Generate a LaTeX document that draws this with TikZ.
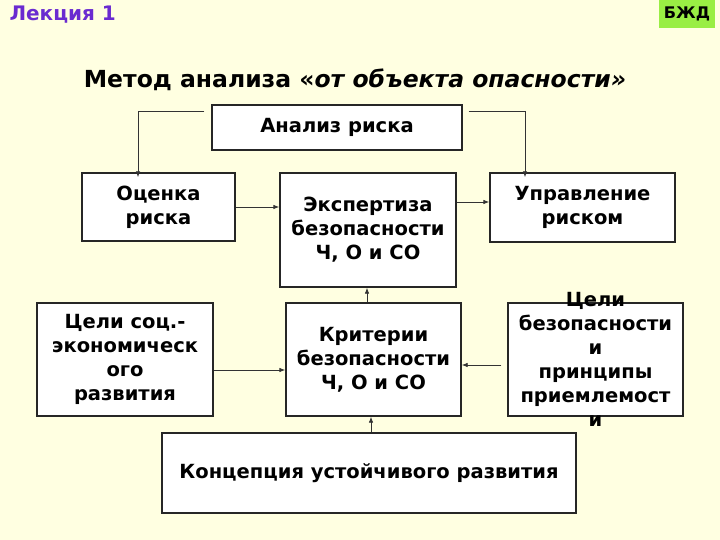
\documentclass[tikz,border=0pt]{standalone}
\usepackage{fontspec}
\setmainfont{DejaVu Sans}
\usetikzlibrary{arrows.meta,positioning}
\definecolor{slidebg}{HTML}{FFFFE1}
\definecolor{lecture}{HTML}{6A2BD0}
\definecolor{tagbg}{HTML}{99EE44}

\begin{document}
\begin{tikzpicture}[x=1pt,y=-1pt,>={Latex[length=6pt,width=4.5pt]},
        box/.style={rectangle, draw=black!85, fill=white, line width=1.3pt, align=center, inner sep=0pt, font=\fontsize{19.5}{24}\selectfont\bfseries},
        link/.style={->, draw=black!80, line width=0.8pt}
    ]
        \fill[slidebg] (0,0) rectangle (720,540);
        \useasboundingbox (0,0) rectangle (720,540);

        % header
        \node (lecture) [anchor=west, text=lecture, font=\fontsize{20}{22}\selectfont\bfseries] at (6,15) {Лекция 1};
        \node (tag) [rectangle, fill=tagbg, minimum width=56pt, minimum height=28pt, inner sep=0pt, font=\fontsize{16}{18}\selectfont\bfseries] at (687,14) {БЖД};
        \node (title) [font=\fontsize{23.5}{27}\selectfont\bfseries] at (355,80) {Метод анализа «\textit{от объекта опасности»}};

        % boxes
        \node (analiz) [box, minimum width=250pt, minimum height=45pt] at (337,127.5) {Анализ риска};
        \node (ocenka) [box, minimum width=153pt, minimum height=68pt] at (158.5,207) {Оценка\\риска};
        \node (ekspert) [box, minimum width=176pt, minimum height=114pt] at (368,230) {Экспертиза\\безопасности\\Ч, О и СО};
        \node (upravl) [box, minimum width=185pt, minimum height=69pt] at (582.5,207.5) {Управление\\риском};
        \node (celisoc) [box, minimum width=176pt, minimum height=113pt] at (125,359.5) {Цели соц.-\\экономическ\\ого\\развития};
        \node (kriter) [box, minimum width=175pt, minimum height=113pt] at (373.5,359.5) {Критерии\\безопасности\\Ч, О и СО};
        \node (celibez) [box, minimum width=175pt, minimum height=113pt, inner ysep=-20pt] at (595.5,359.5) {Цели\\безопасности\\и\\ принципы\\приемлемост\\и};
        \node (konc) [box, minimum width=414pt, minimum height=80pt] at (369,473) {Концепция устойчивого развития};

        % connectors
        \draw [link] ([xshift=-7pt,yshift=16.5pt]analiz.west) -| ([xshift=-20.5pt,yshift=-5pt]ocenka.north);
        \draw [link] ([xshift=6pt,yshift=16.5pt]analiz.east) -| ([xshift=-57.5pt,yshift=-5pt]upravl.north);
        \draw [link] (ocenka.east) -- (ocenka.east -| ekspert.west);
        \draw [link] ([yshift=5.5pt]upravl.west -| ekspert.east) -- ([yshift=5.5pt]upravl.west);
        \draw [link] ([yshift=-10.5pt]celisoc.east) -- ([yshift=-10.5pt]celisoc.east -| kriter.west);
        \draw [link] ([xshift=-6pt,yshift=-5.5pt]celibez.west) -- ([yshift=-5.5pt]celibez.west -| kriter.east);
        \draw [link] ([xshift=-6.5pt]kriter.north) -- ([xshift=-6.5pt]kriter.north |- ekspert.south);
        \draw [link] ([xshift=2pt]konc.north) -- ([xshift=2pt]konc.north |- kriter.south);
    \end{tikzpicture}
\end{document}
